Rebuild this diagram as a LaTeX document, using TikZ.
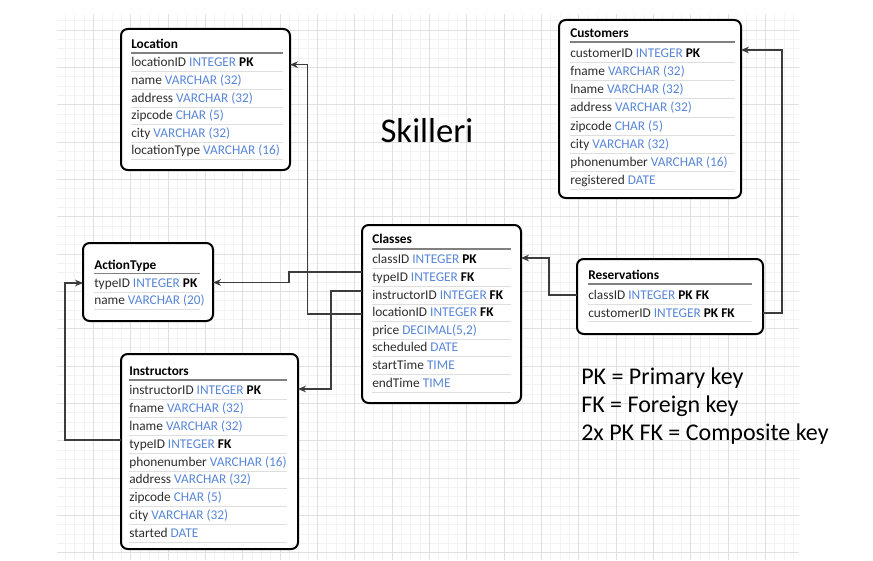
\documentclass[tikz,border=0pt]{standalone}
\usepackage{fontspec}
\setmainfont{Carlito}
\usetikzlibrary{arrows.meta}
\definecolor{typeblue}{RGB}{88,134,216}
\definecolor{fieldgray}{RGB}{45,45,45}
\definecolor{gridminor}{RGB}{243,243,243}
\definecolor{gridmajor}{RGB}{224,224,224}
\definecolor{sepgray}{RGB}{222,222,222}
\definecolor{ulgray}{RGB}{128,128,128}
\definecolor{linegray}{RGB}{60,60,60}
\newcommand{\ty}[1]{\textcolor{typeblue}{#1}}
\newcommand{\kb}[1]{\textbf{\textcolor{black}{#1}}}
\newcommand{\erdrows}[9]{%
  \node[ttl] (#1-t) at (#2,#4) {#8};
  \draw[uline] (#2,#5) -- (#3,#5);
  \foreach \t [count=\i from 0] in {#9} {
    \node[fld] (#1-\i) at (#2,#6+#7*\i) {\t};
    \draw[sep] (#2,#6+#7*\i+#7/2+1) -- (#3,#6+#7*\i+#7/2+1);
  }}
\begin{document}
\begin{tikzpicture}[x=0.75pt,y=-0.75pt,
  tbl/.style={draw=black,line width=1.5pt,rounded corners=5pt,inner sep=0pt,outer sep=0pt,anchor=north west,fill=white},
  ttl/.style={anchor=west,inner sep=0pt,font=\fontsize{10}{12}\selectfont\bfseries,text height=7.5pt,text depth=2.5pt},
  fld/.style={anchor=west,inner sep=0pt,yshift=-1.2pt,font=\fontsize{10}{12}\selectfont,text=fieldgray,text height=7.5pt,text depth=2.5pt},
  uline/.style={draw=ulgray,line width=1.2pt},
  sep/.style={draw=sepgray,line width=0.7pt},
  conn/.style={draw=linegray,line width=0.9pt,-{Stealth[length=6pt,width=5pt]}},
  legend/.style={anchor=west,inner sep=0pt,font=\fontsize{18}{22}\selectfont,text=black}
]
\useasboundingbox (0,0) rectangle (873,560);
% grid
\begin{scope}
  \clip (57,14) rectangle (799,560);
  \foreach \k in {0,...,80} \draw[gridminor,line width=0.6pt] (56+9.3333*\k,14) -- (56+9.3333*\k,560);
  \foreach \k in {0,...,60} \draw[gridminor,line width=0.6pt] (57,11.33+9.3333*\k) -- (799,11.33+9.3333*\k);
  \foreach \k in {0,...,20} \draw[gridmajor,line width=0.6pt] (56+37.333*\k,14) -- (56+37.333*\k,560);
  \foreach \k in {0,...,15} \draw[gridmajor,line width=0.6pt] (57,-7.33+37.333*\k) -- (799,-7.33+37.333*\k);
\end{scope}
% tables
\node[tbl,minimum width=126.75pt,minimum height=105.75pt] (loc) at (121,29) {};
\node[tbl,minimum width=136.5pt,minimum height=133.5pt] (cust) at (559,20) {};
\node[tbl,minimum width=97.5pt,minimum height=58.5pt] (act) at (83,243) {};
\node[tbl,minimum width=119.25pt,minimum height=133.5pt] (cls) at (362,225) {};
\node[tbl,minimum width=139.5pt,minimum height=56.25pt] (res) at (577,259) {};
\node[tbl,minimum width=132.75pt,minimum height=146.25pt] (ins) at (121,354) {};

\erdrows{loc}{131}{283}{45}{53}{62}{17.6}{Location}{%
  {locationID \ty{INTEGER} \kb{PK}},{name \ty{VARCHAR (32)}},{address \ty{VARCHAR (32)}},%
  {zipcode \ty{CHAR (5)}},{city \ty{VARCHAR (32)}},{locationType \ty{VARCHAR (16)}}}
\erdrows{cust}{570}{735}{34}{42}{52.3}{18.2}{Customers}{%
  {customerID \ty{INTEGER} \kb{PK}},{fname \ty{VARCHAR (32)}},{lname \ty{VARCHAR (32)}},%
  {address \ty{VARCHAR (32)}},{zipcode \ty{CHAR (5)}},{city \ty{VARCHAR (32)}},%
  {phonenumber \ty{VARCHAR (16)}},{registered \ty{DATE}}}
\erdrows{act}{94}{200}{266.5}{273.5}{282.5}{17}{ActionType}{%
  {typeID \ty{INTEGER} \kb{PK}},{name \ty{VARCHAR (20)}}}
\erdrows{cls}{372}{511}{240}{249}{259}{17.6}{Classes}{%
  {classID \ty{INTEGER} \kb{PK}},{typeID \ty{INTEGER} \kb{FK}},{instructorID \ty{INTEGER} \kb{FK}},%
  {locationID \ty{INTEGER} \kb{FK}},{price \ty{DECIMAL(5,2)}},{scheduled \ty{DATE}},%
  {startTime \ty{TIME}},{endTime \ty{TIME}}}
\erdrows{res}{588}{752}{276}{284}{295}{17.3}{Reservations}{%
  {classID \ty{INTEGER} \kb{PK FK}},{customerID \ty{INTEGER} \kb{PK FK}}}
\erdrows{ins}{129}{287}{372}{380}{390}{17.8}{Instructors}{%
  {instructorID \ty{INTEGER} \kb{PK}},{fname \ty{VARCHAR (32)}},{lname \ty{VARCHAR (32)}},%
  {typeID \ty{INTEGER} \kb{FK}},{phonenumber \ty{VARCHAR (16)}},{address \ty{VARCHAR (32)}},%
  {zipcode \ty{CHAR (5)}},{city \ty{VARCHAR (32)}},{started \ty{DATE}}}

% connector bend points
\coordinate (k1) at (307.7,314);  \coordinate (k1e) at (0,64.7);
\coordinate (k2) at (289,272);    \coordinate (k2e) at (0,282.5);
\coordinate (k3) at (331,291);    \coordinate (k3e) at (0,389);
\coordinate (k4) at (549,295);    \coordinate (k4e) at (0,258);
\coordinate (k5) at (782,313);    \coordinate (k5e) at (0,50);
\coordinate (k6) at (65,440);     \coordinate (k6e) at (0,283);
\draw[conn] (cls.west |- k1) -- (k1) |- (loc.east |- k1e);
\draw[conn] (cls.west |- k2) -- (k2) |- (act.east |- k2e);
\draw[conn] (cls.west |- k3) -- (k3) |- (ins.east |- k3e);
\draw[conn] (res.west |- k4) -- (k4) |- (cls.east |- k4e);
\draw[conn] (res.east |- k5) -- (k5) |- (cust.east |- k5e);
\draw[conn] (ins.west |- k6) -- (k6) |- (act.west |- k6e);

% title and legend
\node[inner sep=0pt,font=\fontsize{26}{30}\selectfont] (title) at (427,131) {Skilleri};
\node[legend] (leg1) at (581,378) {PK = Primary key};
\node[legend] (leg2) at (581,406) {FK = Foreign key};
\node[legend] (leg3) at (581,434) {2x PK FK = Composite key};
\end{tikzpicture}
\end{document}
